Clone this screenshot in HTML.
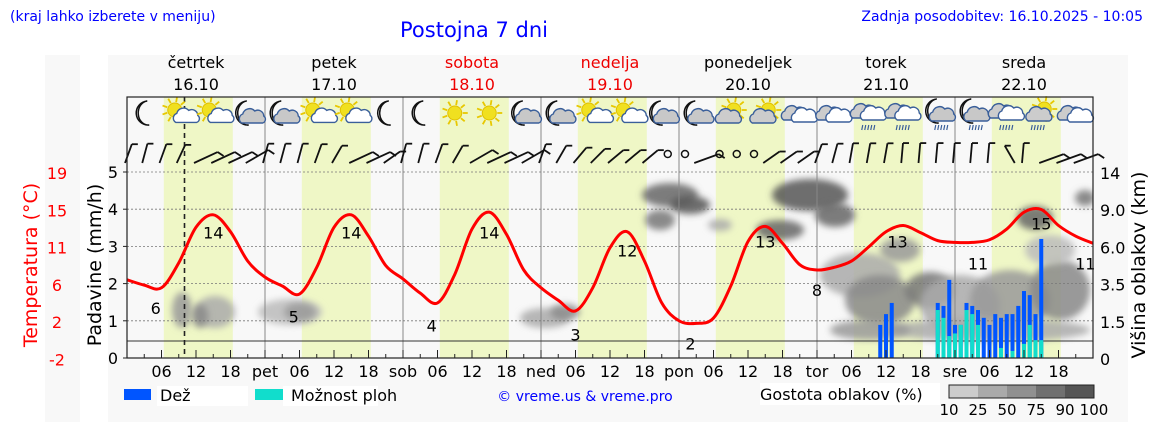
<!DOCTYPE html>
<html><head><meta charset="utf-8">
<style>
body{margin:0;background:#fff;width:1152px;height:443px;overflow:hidden;font-family:"Liberation Sans","DejaVu Sans",sans-serif}
svg text{font-family:"DejaVu Sans","Liberation Sans",sans-serif}
</style></head><body>
<svg id="chart" width="1152" height="443" xmlns="http://www.w3.org/2000/svg">
<defs>
<filter id="blur" x="-50%" y="-50%" width="200%" height="200%"><feGaussianBlur stdDeviation="3.5"/></filter>
<clipPath id="plotclip"><rect x="127" y="165" width="966" height="193"/></clipPath>
</defs>
<rect x="45" y="55" width="35" height="367" fill="#f8f8f8"/>
<rect x="108" y="55" width="1020" height="367" fill="#f8f8f8"/>
<text x="10" y="21" font-size="14" fill="#0000ff">(kraj lahko izberete v meniju)</text>
<text x="474" y="37" font-size="21" fill="#0000ff" text-anchor="middle">Postojna 7 dni</text>
<text x="1143" y="21" font-size="14" fill="#0000ff" text-anchor="end">Zadnja posodobitev: 16.10.2025 - 10:05</text>
<g id="bands"></g>
<g id="clouds" clip-path="url(#plotclip)"></g>
<g id="grid"></g>
<g id="bars"></g>
<g id="temp"></g>
<g id="icons"></g>
<g id="wind"></g>
<g id="axes"></g>
<rect x="127" y="97" width="966" height="261" fill="none" stroke="#222" stroke-width="1.2"/>
<text transform="translate(37,265) rotate(-90)" font-size="19" fill="#ff0000" text-anchor="middle">Temperatura (°C)</text>
<text transform="translate(101,265) rotate(-90)" font-size="19" fill="#000" text-anchor="middle">Padavine (mm/h)</text>
<text transform="translate(1145,265) rotate(-90)" font-size="19" fill="#000" text-anchor="middle">Višina oblakov (km)</text>
<g>
<rect x="124" y="389" width="27" height="11" fill="#0055ff"/>
<rect x="157" y="386" width="91" height="20" fill="#fff"/>
<text x="160" y="401" font-size="16" fill="#000">Dež</text>
<rect x="255" y="389" width="28" height="11" fill="#11ddcc"/>
<rect x="283" y="386" width="95" height="20" fill="#fff"/>
<text x="291" y="401" font-size="16" fill="#000">Možnost ploh</text>
<text x="585" y="401" font-size="14" fill="#0000ff" text-anchor="middle">© vreme.us &amp; vreme.pro</text>
<rect x="760" y="383" width="180" height="22" fill="#fff"/>
<text x="760" y="400" font-size="16" fill="#000">Gostota oblakov (%)</text>
</g>
<g id="cbar"></g>
</svg>
<script>
const NS="http://www.w3.org/2000/svg";
const days=["četrtek","petek","sobota","nedelja","ponedeljek","torek","sreda"];
const dates=["16.10","17.10","18.10","19.10","20.10","21.10","22.10"];
const dayAbbr=["","pet","sob","ned","pon","tor","sre"];
const weekend=[false,false,true,true,false,false,false];
const tempHours=[0,3,6,9,12,15,18,21,24,27,30,33,36,39,42,45,48,51,54,57,60,63,66,69,72,75,78,81,84,87,90,93,96,99,102,105,108,111,114,117,120,123,126,129,132,135,138,141,144,147,150,153,156,159,162,165,168];
const tempValues=[6.9,6.3,6.0,8.8,12.8,14.2,12.3,9.0,7.2,6.2,5.3,8.3,12.8,14.2,11.8,8.5,7.0,5.4,4.3,7.5,12.6,14.5,12.0,8.0,6.0,4.6,3.4,6.0,10.5,12.3,9.0,4.3,2.3,2.0,2.6,6.2,11.2,12.9,11.0,8.6,8.0,8.3,9.0,10.6,12.3,13.0,12.2,11.3,11.1,11.1,11.4,12.6,14.5,14.8,13.0,11.8,11.0];
const tempLabelHours=[5,15,29,39,53,63,78,87,98,111,120,134,148,159,167];
const tempLabelValues=[6,14,5,14,4,14,3,12,2,13,8,13,11,15,11];
const rainHours=[131,132,133,141,142,143,144,145,146,147,148,149,150,151,152,153,154,155,156,157,158,159];
const rainValues=[0.89,1.18,1.48,1.48,1.40,2.10,0.89,0.89,1.48,1.40,1.29,1.08,0.89,1.18,1.08,1.18,1.18,1.40,1.80,1.69,1.18,3.20];
const showerValues=[0,0,0,1.29,1.08,0.59,0.66,0.89,1.29,1.18,0.89,0,0,0,0.27,0,0.19,0,0.38,0.89,0.48,0.48];
const precipTicks=[0,1,2,3,4,5];
const tempTicks=[19,15,11,6,2,-2];
const cloudTickLabels=["14","9.0","6.0","3.5","1.5","0"];
const iconTypes=["moon","sunc","sunc","moonc","moonc","sunc","sunc","moon","moon","sun","sun","moonc","moonc","sunc","sunc","moonc","moonc","suncg","suncg","cloud","cloud","cloudr","cloudr","moonr","moonr","cloudr","sunr","cloud"];
const windAngles=[70,75,70,65,25,25,25,30,75,75,75,70,60,25,25,35,75,75,70,60,30,25,25,30,70,60,50,45,40,40,40,0,0,20,0,0,0,35,35,35,70,75,80,80,80,85,85,85,85,85,85,-60,85,20,20,20];
const cloudBlobs=[
[182,310,10,18,"#999"],[215,312,20,16,"#aaa"],[200,316,8,12,"#888"],
[290,312,32,13,"#bbb"],[300,312,16,9,"#999"],
[545,318,25,10,"#aaa"],[565,312,15,8,"#888"],
[670,195,28,12,"#666"],[690,205,20,9,"#555"],[660,220,15,10,"#777"],[720,225,12,6,"#aaa"],
[810,195,38,16,"#555"],[780,230,24,10,"#666"],[835,215,20,12,"#666"],
[860,275,40,22,"#aaa"],[880,300,35,25,"#888"],[930,290,25,18,"#777"],[900,250,20,12,"#999"],
[960,305,40,30,"#aaa"],[1010,300,40,30,"#999"],[1060,290,30,30,"#888"],[1050,250,25,15,"#bbb"],
[1035,218,18,12,"#666"],[1085,198,10,8,"#777"],[990,330,100,12,"#aaa"],[870,330,40,10,"#999"]];
const X0=127,PW=966;
const xH=h=>X0+h*PW/168;
const yP=p=>358-p*37.2;
const yT=t=>359-(t+2)*8.9;
function el(tag,attrs,parent){const e=document.createElementNS(NS,tag);for(const k in attrs)e.setAttribute(k,attrs[k]);parent.appendChild(e);return e;}
const bands=document.getElementById('bands');
for(let d=0;d<7;d++){
  const b=el('rect',{x:xH(d*24+6.4),y:97,width:xH(12)-X0,height:261,fill:'#eff7c6'},bands);
  
  
  const t=el('text',{x:xH(d*24+12),y:68,'font-size':16,'text-anchor':'middle',fill:weekend[d]?'#e00':'#000'},bands);
  t.textContent=days[d];
  
  
  const t2=el('text',{x:xH(d*24+12),y:90,'font-size':16,'text-anchor':'middle',fill:weekend[d]?'#e00':'#000'},bands);
  t2.textContent=dates[d];
  
  
}
const clouds=document.getElementById('clouds');
cloudBlobs.forEach(c=>{
  const e=el('ellipse',{cx:c[0],cy:c[1],rx:c[2],ry:c[3],fill:c[4],'fill-opacity':0.85,filter:'url(#blur)'},clouds);
  
  
});
const grid=document.getElementById('grid');
for(let d=1;d<7;d++){const l=el('line',{x1:xH(d*24),x2:xH(d*24),y1:97,y2:358,stroke:'#888','stroke-width':1},grid);}
precipTicks.slice(1).forEach(p=>{const l=el('line',{x1:X0,x2:X0+PW,y1:yP(p),y2:yP(p),stroke:'#777','stroke-width':0.8,'stroke-dasharray':'2,2'},grid);});
el('line',{x1:X0,x2:X0+PW,y1:341,y2:341,stroke:'#333','stroke-width':1},grid);
const nowL=el('line',{x1:xH(10),x2:xH(10),y1:97,y2:358,stroke:'#222','stroke-width':1.6,'stroke-dasharray':'5,4'},grid);


const bars=document.getElementById('bars');
rainHours.forEach((h,i)=>{
  const x=xH(h)-2;
  const r=el('rect',{x:x,y:yP(rainValues[i]),width:4,height:358-yP(rainValues[i]),fill:'#0055ff'},bars);
  
  
  if(showerValues[i]>0){const s=el('rect',{x:x,y:yP(showerValues[i]),width:4,height:358-yP(showerValues[i]),fill:'#11ddcc'},bars);
  
  }
});
const pts=tempHours.map((h,i)=>[xH(h),yT(tempValues[i])]);
let d='M'+pts[0][0]+','+pts[0][1];
for(let i=0;i<pts.length-1;i++){const p0=pts[Math.max(0,i-1)],p1=pts[i],p2=pts[i+1],p3=pts[Math.min(pts.length-1,i+2)];
d+=' C'+(p1[0]+(p2[0]-p0[0])/6)+','+(p1[1]+(p2[1]-p0[1])/6)+' '+(p2[0]-(p3[0]-p1[0])/6)+','+(p2[1]-(p3[1]-p1[1])/6)+' '+p2[0]+','+p2[1];}
const temp=document.getElementById('temp');
const tl=el('path',{d:d,fill:'none',stroke:'#ff0000','stroke-width':3},temp);


tempLabelHours.forEach((h,i)=>{
  const v=tempLabelValues[i];const isMax=i%2==1&&i<13||i==13;
  const t=el('text',{x:xH(h)+(i==14?-2:0),y:yT(v)+(isMax?22:26),'font-size':16,'text-anchor':'middle',fill:'#000'},temp);
  t.textContent=v;
  
  
});
const icons=document.getElementById('icons');
function moon(g,x,y){el('path',{d:`M${x+3},${y-12} A12,12 0 1,0 ${x+5},${y+12} A10,12 0 0,1 ${x+3},${y-12}Z`,fill:'#fff',stroke:'#111','stroke-width':1.5},g);}
function sun(g,x,y){for(let a=0;a<360;a+=40){const r=a*Math.PI/180;el('line',{x1:x+Math.cos(r)*8,y1:y+Math.sin(r)*8,x2:x+Math.cos(r)*13,y2:y+Math.sin(r)*13,stroke:'#e8c800','stroke-width':1.8},g);}el('circle',{cx:x,cy:y,r:7,fill:'#f0e020',stroke:'#e0c000'},g);}
function cloud(g,x,y,s,fill){el('path',{d:`M${x-10*s},${y+6*s} a5,5 0 0,1 1,-9 a7,7 0 0,1 12,-3 a6,6 0 0,1 9,5 a4,4 0 0,1 -1,7 z`,fill:fill,stroke:'#3a5f9a','stroke-width':1.4},g);}
function rain(g,x,y){for(let k=-2;k<3;k++)el('line',{x1:x+k*3,y1:y,x2:x+k*3-1,y2:y+5,stroke:'#3a5f9a','stroke-width':1.2},g);}
iconTypes.forEach((t,i)=>{
  const x=xH(3+6*i),y=113;
  const g=el('g',{},icons);
  
  
  if(t=='moon')moon(g,x,y);
  else if(t=='moonc'){moon(g,x-4,y);cloud(g,x+4,y+4,1,'#c8c8c8');}
  else if(t=='moonr'){moon(g,x-4,y-2);cloud(g,x+4,y+2,1,'#c8c8c8');rain(g,x+4,y+12);}
  else if(t=='sun')sun(g,x,y);
  else if(t=='sunc'){sun(g,x-4,y-3);cloud(g,x+6,y+4,0.9,'#fff');}
  else if(t=='suncg'){sun(g,x+3,y-3);cloud(g,x-3,y+4,1,'#ccc');}
  else if(t=='sunr'){sun(g,x+3,y-4);cloud(g,x-3,y+2,1,'#ccc');rain(g,x-3,y+12);}
  else if(t=='cloud'){cloud(g,x-6,y+1,1,'#ccc');cloud(g,x+4,y+3,1,'#fff');}
  else if(t=='cloudr'){cloud(g,x-6,y-1,1,'#ccc');cloud(g,x+4,y+1,1,'#fff');rain(g,x,y+12);}
});
const wind=document.getElementById('wind');
windAngles.forEach((a,i)=>{
  const bx=xH(3*i)-2,by=163;
  const g=el('g',{},wind);
  
  
  if(a==0){el('circle',{cx:bx+8,cy:154,r:3.5,fill:'none',stroke:'#111','stroke-width':1.5},g);return;}
  const r=Math.abs(a)*Math.PI/180,L=Math.abs(a)<35?26:20;
  const dx=Math.cos(r)*L,dy=Math.sin(r)*L;
  let x1,y1,x2,y2;
  if(a>0){x1=bx;y1=by;x2=bx+dx;y2=by-dy;}else{x1=bx;y1=by-dy;x2=bx+dx;y2=by;}
  el('line',{x1:x1,y1:y1,x2:x2,y2:y2,stroke:'#111','stroke-width':1.8},g);
  const tx=a>0?x2:x1,ty=a>0?y2:y1;
  el('line',{x1:tx,y1:ty,x2:tx+6,y2:ty+(Math.abs(a)<35?4:0),stroke:'#111','stroke-width':1.8},g);
});
const axes=document.getElementById('axes');
for(let h=3;h<168;h+=3){el('line',{x1:xH(h),x2:xH(h),y1:358,y2:h%6==0?350:354,stroke:'#222','stroke-width':1},axes);}
for(let dd=0;dd<7;dd++){
  [6,12,18].forEach(h=>{const t=el('text',{x:xH(dd*24+h),y:377,'font-size':16,'text-anchor':'middle'},axes);t.textContent=String(h).padStart(2,'0');});
  if(dd>0){const t=el('text',{x:xH(dd*24),y:377,'font-size':16,'text-anchor':'middle'},axes);t.textContent=dayAbbr[dd];}
}
precipTicks.forEach(p=>{const t=el('text',{x:118,y:yP(p)+6,'font-size':16,'text-anchor':'end'},axes);t.textContent=p;
  el('line',{x1:123,x2:127,y1:yP(p),y2:yP(p),stroke:'#222'},axes);});
tempTicks.forEach((v,i)=>{const t=el('text',{x:57,y:179+i*37.3,'font-size':16,'text-anchor':'middle',fill:'#ff0000'},axes);t.textContent=v;});
cloudTickLabels.forEach((v,i)=>{const t=el('text',{x:1100,y:179+i*37.2,'font-size':16},axes);t.textContent=v;});
const cbar=document.getElementById('cbar');
const cbarLabels=["10","25","50","75","90","100"];
const cbarColors=["#cccccc","#aaaaaa","#909090","#707070","#555555"];
cbarColors.forEach((c,i)=>{const r=el('rect',{x:949+i*29,y:385,width:29,height:13,fill:c},cbar);});
el('rect',{x:949,y:385,width:145,height:13,fill:'none',stroke:'#222'},cbar);
cbarLabels.forEach((v,i)=>{const t=el('text',{x:949+i*29,y:415,'font-size':15,'text-anchor':'middle'},cbar);t.textContent=v;});
</script>
</body></html>
